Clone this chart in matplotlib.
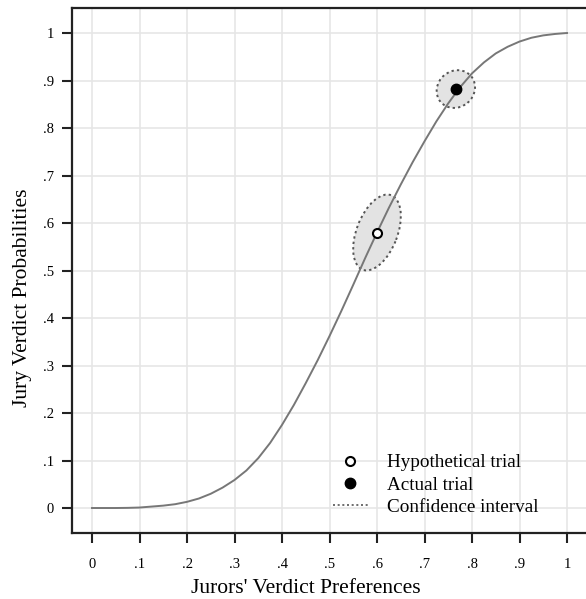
import matplotlib
matplotlib.use("Agg")
import matplotlib.pyplot as plt
from matplotlib.patches import Ellipse
from matplotlib.lines import Line2D
from matplotlib.ticker import FuncFormatter

# curve
pref = [0.000, 0.025, 0.050, 0.075, 0.100, 0.125, 0.150, 0.175, 0.200, 0.225,
        0.250, 0.275, 0.300, 0.325, 0.350, 0.375, 0.400, 0.425, 0.450, 0.475,
        0.500, 0.525, 0.550, 0.575, 0.600, 0.625, 0.650, 0.675, 0.700, 0.725,
        0.750, 0.775, 0.800, 0.825, 0.850, 0.875, 0.900, 0.925, 0.950, 0.975,
        1.000]
prob = [0.000, 0.000, 0.000, 0.0003, 0.001, 0.003, 0.005, 0.008, 0.013, 0.020,
        0.030, 0.043, 0.059, 0.079, 0.105, 0.137, 0.175, 0.217, 0.263, 0.311,
        0.362, 0.415, 0.470, 0.526, 0.580, 0.632, 0.681, 0.728, 0.772, 0.814,
        0.852, 0.886, 0.915, 0.938, 0.957, 0.971, 0.982, 0.990, 0.995, 0.998,
        1.000]

hypo_x, hypo_y = 0.600, 0.580
actual_x, actual_y = 0.766, 0.882

# confidence ellipses: (width, height, angle)
hypo_ci = (0.168, 0.086, 69)
actual_ci = (0.084, 0.076, 40)

ticks = [0, .1, .2, .3, .4, .5, .6, .7, .8, .9, 1]

plt.rcParams["font.family"] = ["Liberation Serif", "DejaVu Serif"]

fig = plt.figure(figsize=(5.86, 5.99), dpi=100)
ax = fig.add_axes([0.1229, 0.1102, 0.8771, 0.8764])

ax.set_xlim(-0.0421, 1.04)
ax.set_ylim(-0.0526, 1.0526)

ax.set_xticks(ticks)
ax.set_yticks(ticks)
ax.grid(color="#e6e6e6", lw=1.2, zorder=0)
ax.set_axisbelow(True)

fmt = FuncFormatter(lambda v, p: "0" if v == 0 else ("1" if v == 1 else f"{v:.1f}".lstrip("0")))
ax.xaxis.set_major_formatter(fmt)
ax.yaxis.set_major_formatter(fmt)

for name in ["left", "bottom", "top"]:
    ax.spines[name].set_linewidth(1.6)
    ax.spines[name].set_color("#222222")
ax.spines["right"].set_visible(False)

ax.tick_params(axis="both", direction="out", length=7, width=1.5,
               color="#222222", labelsize=10.5)
ax.tick_params(axis="x", pad=11)
ax.tick_params(axis="y", pad=6)

for (cx, cy), (w, h, ang) in [((hypo_x, hypo_y), hypo_ci),
                              ((actual_x, actual_y), actual_ci)]:
    ax.add_patch(Ellipse((cx, cy), w, h, angle=ang, facecolor="#e3e3e3",
                         edgecolor="#555555", ls=(0, (1.2, 1.6)), lw=1.4,
                         zorder=2))

ax.plot(pref, prob, color="#777777", lw=1.4, solid_joinstyle="round", zorder=3)

ax.plot(hypo_x, hypo_y, "o", ms=6.5, mfc="white", mec="black", mew=1.5, zorder=4)
ax.plot(actual_x, actual_y, "o", ms=7.5, mfc="black", mec="black", zorder=4)

ax.set_xlabel("Jurors' Verdict Preferences", fontsize=15.5, labelpad=6)
ax.set_ylabel("Jury Verdict Probabilities", fontsize=15.5, labelpad=8)
ax.xaxis.set_label_coords(0.455, -0.087)
ax.yaxis.label.set_y(0.449)

handles = [
    Line2D([], [], ls="none", marker="o", ms=6.5, mfc="white", mec="black", mew=1.5),
    Line2D([], [], ls="none", marker="o", ms=7.5, mfc="black", mec="black"),
    Line2D([], [], ls=(0, (1.2, 1.6)), color="#555555", lw=1.2),
]
labels = ["Hypothetical trial", "Actual trial", "Confidence interval"]
ax.legend(handles, labels, loc="upper left", bbox_to_anchor=(0.508, 0.1505),
          frameon=False, fontsize=13.8, handlelength=1.8, handletextpad=1.0,
          labelspacing=0.25, borderpad=0, borderaxespad=0)

fig.savefig("out.png", dpi=100)
